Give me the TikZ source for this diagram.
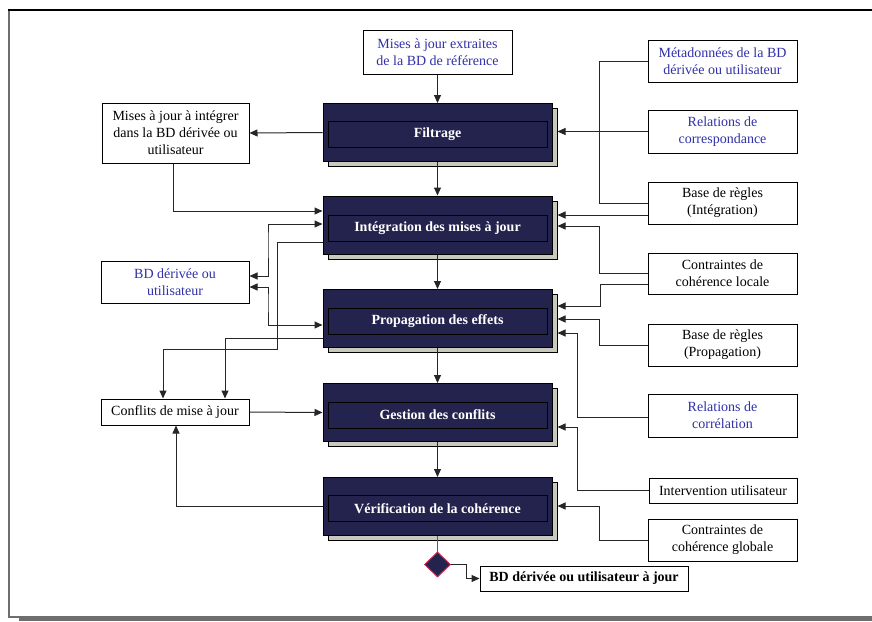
\documentclass[tikz,border=0pt]{standalone}
\usepackage{fontspec}
\setmainfont{Liberation Serif}
\usetikzlibrary{arrows.meta,shapes.geometric,shadows,calc}
\definecolor{navy}{RGB}{36,35,77}
\definecolor{txtblue}{RGB}{48,48,170}
\definecolor{shade}{RGB}{200,200,188}
\definecolor{crim}{RGB}{215,30,70}
\definecolor{framegray}{RGB}{110,110,110}
\begin{document}
\begin{tikzpicture}[x=1pt,y=-1pt,
  every node/.style={font=\fontsize{14}{17}\selectfont},
  wbox/.style={draw, line width=1pt, fill=white, align=center, inner sep=0pt},
  bluetxt/.style={text=txtblue},
  mainbox/.style={draw=black, line width=1pt, fill=navy, minimum width=229pt, minimum height=58pt, inner sep=0pt,
    copy shadow={shadow xshift=5pt, shadow yshift=-5pt, fill=shade, draw=black, line width=0.8pt}},
  innerbox/.style={draw=black, line width=0.9pt, minimum width=219pt, minimum height=26pt, inner sep=0pt,
    text=white, font=\fontsize{14}{17}\selectfont\bfseries},
  conn/.style={line width=1pt, draw=black!85},
  arr/.style={conn, -{Triangle[length=8pt,width=7pt]}},
  darr/.style={conn, {Triangle[length=8pt,width=7pt]}-{Triangle[length=8pt,width=7pt]}},
]
\useasboundingbox (0,0) rectangle (872,621);
% frame
\fill[framegray] (19,616) rectangle (872,621);
\draw[framegray, line width=1.2pt] (9,10) -- (9,617) -- (19,617);
\draw[black, line width=1.2pt] (8,10) -- (872,10);

% main process boxes
\node[mainbox] (filt) at (437.5,132.5) {};
\node[innerbox] (filtI) at ($(filt)+(0,2)$) {Filtrage};
\node[mainbox] (integ) at (437.5,225) {};
\node[innerbox] (integI) at ($(integ)+(0,3)$) {Intégration des mises à jour};
\node[mainbox] (prop) at (437.5,318.5) {};
\node[innerbox] (propI) at ($(prop)+(0,3)$) {Propagation des effets};
\node[mainbox] (gest) at (437.5,412.5) {};
\node[innerbox] (gestI) at ($(gest)+(0,2.5)$) {Gestion des conflits};
\node[mainbox] (verif) at (437.5,506.5) {};
\node[innerbox] (verifI) at ($(verif)+(0,2)$) {Vérification de la cohérence};

\coordinate (filtR) at ($(filt.east)+(5,0)$);
\coordinate (integR) at ($(integ.east)+(5,0)$);
\coordinate (propR) at ($(prop.east)+(5,0)$);
\coordinate (gestR) at ($(gest.east)+(5,0)$);
\coordinate (verifR) at ($(verif.east)+(5,0)$);

% white boxes
\node[wbox, bluetxt, minimum width=149pt, minimum height=44pt] (top) at (437.5,52) {Mises à jour extraites\\de la BD de référence};
\node[wbox, minimum width=147pt, minimum height=60pt] (mi) at (175.5,133) {Mises à jour à intégrer\\dans la BD dérivée ou\\utilisateur};
\node[wbox, bluetxt, minimum width=148pt, minimum height=42pt] (bdd) at (175,282) {BD dérivée ou\\utilisateur};
\node[wbox, minimum width=148pt, minimum height=26pt] (conf) at (175,412) {Conflits de mise à jour};

\node[wbox, bluetxt, minimum width=149pt, minimum height=42pt] (meta) at (722.5,61) {Métadonnées de la BD\\dérivée ou utilisateur};
\node[wbox, bluetxt, minimum width=149pt, minimum height=43pt] (corr) at (722.5,131.5) {Relations de\\correspondance};
\node[wbox, minimum width=149pt, minimum height=42pt] (bri) at (722.5,203) {Base de règles\\(Intégration)};
\node[wbox, minimum width=149pt, minimum height=41pt] (cl) at (722.5,273.5) {Contraintes de\\cohérence locale};
\node[wbox, minimum width=149pt, minimum height=42pt] (brp) at (722.5,345) {Base de règles\\(Propagation)};
\node[wbox, bluetxt, minimum width=149pt, minimum height=43pt] (rc) at (722.5,415.5) {Relations de\\corrélation};
\node[wbox, minimum width=148pt, minimum height=25pt] (iu) at (723,490.5) {Intervention utilisateur};
\node[wbox, minimum width=149pt, minimum height=42pt] (cg) at (722.5,540) {Contraintes de\\cohérence globale};
\node[wbox, minimum width=208pt, minimum height=25pt, font=\fontsize{14}{17}\selectfont\bfseries] (fin) at (584,578.5) {BD dérivée ou utilisateur à jour};

\node[diamond, draw=crim, line width=1pt, fill=navy, minimum width=26pt, minimum height=25pt, inner sep=0pt] (dia) at (437.5,564.5) {};

% vertical flow
\draw[arr] (top.south) -- (filt.north);
\draw[arr] (filt.south) -- (integ.north);
\draw[arr] (integ.south) -- (prop.north);
\draw[arr] (prop.south) -- (gest.north);
\draw[arr] (gest.south) -- (verif.north);
\draw[conn, draw=crim] (verif.south) -- (dia.north);
\draw[arr] (dia.east) -- ++(15,0) |- (fin.west);

% left side
\draw[arr] (filt.west) -- (mi.east);
\draw[arr] ($(mi.south)+(-2,0)$) |- ($(integ.west)+(0,-14)$);
\draw[darr] ($(bdd.east)+(0,-6)$) -| (268,240) |- ($(integ.west)+(0,-1)$);
\draw[darr] ($(bdd.east)+(0,5)$) -| (268,300) |- ($(prop.west)+(0,6.5)$);
\draw[arr] ($(integ.west)+(0,17)$) -| (277,349) -| ($(conf.north)+(-12,0)$);
\draw[arr] ($(prop.west)+(0,19.5)$) -| ($(conf.north)+(50,0)$);
\draw[arr] (conf.east) -- (gest.west);
\draw[arr] (verif.west) -| ($(conf.south)+(1,0)$);

% right side
\coordinate (briA) at ($(bri.west)+(0,12)$);
\draw[conn] (meta.west) -- ++(-48,0) |- (bri.west);
\draw[arr] (corr.west) -- (corr.west -| filtR);
\draw[arr] (briA) -- (briA -| integR);
\draw[arr] (cl.west) -- ++(-48,0) |- ($(integR)+(0,1)$);
\draw[arr] ($(cl.west)+(0,10.5)$) -- ++(-47,0) |- ($(propR)+(0,-12.5)$);
\draw[arr] (brp.west) -- ++(-48,0) |- ($(propR)+(0,0.5)$);
\draw[arr] ($(rc.west)+(0,1.5)$) -- ++(-70,0) |- ($(propR)+(0,14.5)$);
\draw[arr] (iu.west) -- ++(-71,0) |- ($(gestR)+(0,14.5)$);
\draw[arr] (cg.west) -- ++(-48,0) |- ($(verifR)+(0,-0.5)$);
\end{tikzpicture}
\end{document}
